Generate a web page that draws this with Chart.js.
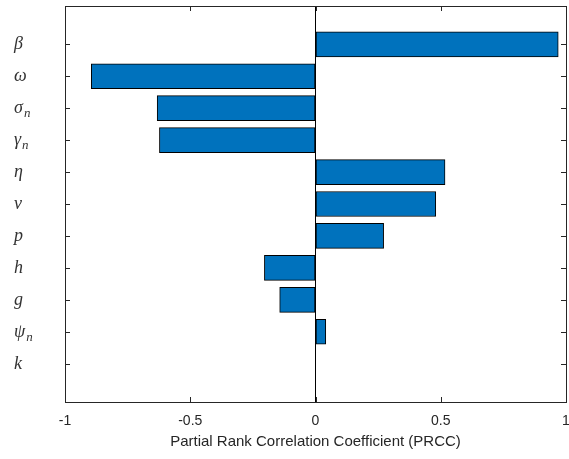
<!DOCTYPE html>
<html>
<head>
<meta charset="utf-8">
<script src="https://cdn.jsdelivr.net/npm/chart.js@4.4.0/dist/chart.umd.min.js"></script>
<style>
  html, body { margin: 0; padding: 0; background: #fff; }
  #wrap { width: 569px; height: 459px; }
</style>
</head>
<body>
<div id="wrap"><canvas id="prccChart" width="569" height="459"></canvas></div>
<script>
// parameter names (top to bottom, "_n" = subscript n) and their PRCC values
const params = ['β', 'ω', 'σ_n', 'γ_n', 'η', 'ν', 'p', 'h', 'g', 'ψ_n', 'k'];
const prcc = [0.969, -0.895, -0.632, -0.623, 0.517, 0.48, 0.272, -0.204, -0.143, 0.041, 0];
const xTicks = [-1, -0.5, 0, 0.5, 1];

const axisColor = '#262626';

// box around the plot + small inward ticks, like matlab
const boxPlugin = {
  id: 'boxPlugin',
  afterDraw(chart) {
    const a = chart.chartArea;
    const ctx = chart.ctx;
    const xs = chart.scales.x;
    const ys = chart.scales.y;
    ctx.save();
    ctx.strokeStyle = axisColor;
    ctx.lineWidth = 1;
    ctx.beginPath();
    for (const t of xs.ticks) {
      const px = Math.round(xs.getPixelForValue(t.value)) + 0.5;
      ctx.moveTo(px, a.bottom); ctx.lineTo(px, a.bottom - 5);
      ctx.moveTo(px, a.top); ctx.lineTo(px, a.top + 5);
    }
    for (const t of ys.ticks) {
      const py = Math.round(ys.getPixelForValue(t.value)) + 0.5;
      ctx.moveTo(a.left, py); ctx.lineTo(a.left + 5, py);
      ctx.moveTo(a.right, py); ctx.lineTo(a.right - 5, py);
    }
    ctx.stroke();
    ctx.strokeRect(Math.round(a.left) + 0.5, Math.round(a.top) + 0.5,
      Math.round(a.right - a.left), Math.round(a.bottom - a.top));

    // y labels with real subscripts (left aligned, like the tex labels)
    const mainFont = 'italic 18px "Liberation Serif"';
    const subFont = 'italic 13px "Liberation Serif"';
    ctx.fillStyle = '#333333';
    ctx.textBaseline = 'alphabetic';
    ctx.textAlign = 'left';
    const leftX = 14;
    ys.ticks.forEach((t) => {
      const parts = params[t.value].split('_');
      const py = ys.getPixelForValue(t.value);
      ctx.font = mainFont;
      const w1 = ctx.measureText(parts[0]).width;
      ctx.fillText(parts[0], leftX, py + 5);
      if (parts[1]) {
        ctx.font = subFont;
        ctx.fillText(parts[1], leftX + w1 + 1, py + 9);
      }
    });
    ctx.restore();
  }
};

const ctx = document.getElementById('prccChart').getContext('2d');
const chart = new Chart(ctx, {
  type: 'bar',
  data: {
    datasets: [{
      data: prcc.map((v, i) => ({ x: v, y: i })),
      backgroundColor: '#0072BD',
      borderColor: '#000000',
      borderWidth: 1,
      borderSkipped: false,
      barThickness: 25
    }]
  },
  options: {
    indexAxis: 'y',
    responsive: false,
    animation: false,
    layout: { padding: { top: 6, right: 3, left: 0, bottom: 0 } },
    plugins: {
      legend: { display: false },
      tooltip: { enabled: false }
    },
    scales: {
      x: {
        type: 'linear',
        min: -1,
        max: 1,
        afterBuildTicks: (s) => { s.ticks = xTicks.map(v => ({ value: v })); },
        afterFit: (s) => {
          s.height = 57;
          s.paddingLeft = 0; s.paddingRight = 0; s.paddingTop = 0; s.paddingBottom = 0;
        },
        grid: {
          drawTicks: false,
          color: (c) => (c.tick && c.tick.value === 0) ? '#000000' : 'rgba(0,0,0,0)'
        },
        border: { display: false },
        ticks: {
          color: axisColor,
          padding: 11,
          maxRotation: 0,
          font: { family: 'Helvetica, Arial, "Liberation Sans"', size: 14 },
          callback: (v) => String(v)
        },
        title: {
          display: true,
          text: 'Partial Rank Correlation Coefficient (PRCC)',
          color: axisColor,
          padding: { top: 2, bottom: 8 },
          font: { family: 'Helvetica, Arial, "Liberation Sans"', size: 15 }
        }
      },
      y: {
        type: 'linear',
        reverse: true,
        offset: false,
        min: -1.2,
        max: 11.2,
        afterBuildTicks: (s) => { s.ticks = params.map((p, i) => ({ value: i })); },
        afterFit: (s) => {
          s.width = 65;
          s.paddingLeft = 0; s.paddingRight = 0; s.paddingTop = 0; s.paddingBottom = 0;
        },
        grid: { display: false, drawTicks: false },
        border: { display: false },
        ticks: { display: false }
      }
    }
  },
  plugins: [boxPlugin]
});
</script>
</body>
</html>
